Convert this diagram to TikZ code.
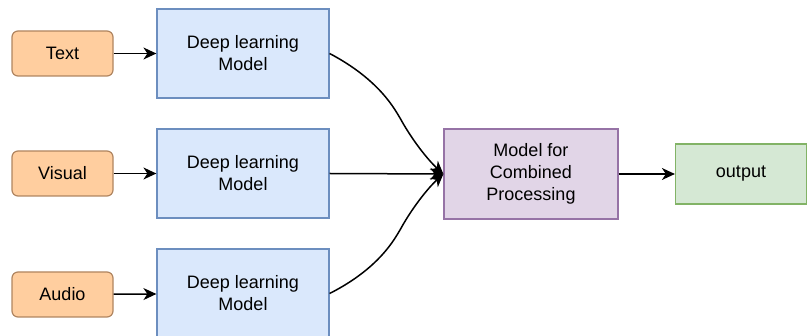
\documentclass[tikz,border=0pt]{standalone}
\usepackage{fontspec}
\setmainfont{Liberation Sans}
\usetikzlibrary{arrows.meta}
\definecolor{obg}{HTML}{FFCE9F}\definecolor{ofg}{HTML}{B08560}
\definecolor{bbg}{HTML}{DAE8FC}\definecolor{bfg}{HTML}{6C8EBF}
\definecolor{pbg}{HTML}{E1D5E7}\definecolor{pfg}{HTML}{9673A6}
\definecolor{gbg}{HTML}{D5E8D4}\definecolor{gfg}{HTML}{82B366}
\tikzset{
  base/.style={font=\fontsize{18}{22}\selectfont, align=center, line width=1.2pt, inner sep=0pt},
  inbox/.style={base, draw=ofg, fill=obg, rounded corners=6pt, minimum width=101pt, minimum height=45pt},
  dlbox/.style={base, draw=bfg, fill=bbg, minimum width=172pt, minimum height=89pt},
  cbox/.style={base, draw=pfg, fill=pbg, minimum width=174pt, minimum height=90pt},
  obox/.style={base, draw=gfg, fill=gbg, minimum width=131pt, minimum height=60pt},
  arr/.style={line width=1.5pt, -{Stealth[length=13pt,width=12pt,inset=4pt]}}
}
\begin{document}
\begin{tikzpicture}[x=1pt,y=-1pt]
\useasboundingbox (0,0) rectangle (807,336);
\node[inbox] (t) at (62.5,53.5) {Text};
\node[inbox] (v) at (62.5,173.5) {Visual};
\node[inbox] (a) at (62.5,294.5) {Audio};
\node[dlbox] (d1) at (243,53.5) {Deep learning\\Model};
\node[dlbox] (d2) at (243,173.5) {Deep learning\\Model};
\node[dlbox] (d3) at (243,293.5) {Deep learning\\Model};
\node[cbox] (c) at (531,174) {Model for\\Combined\\Processing};
\node[obox] (o) at (741,174) {output};
\draw[arr] (t) -- (d1);
\draw[arr] (v) -- (d2);
\draw[arr] (a) -- (d3);
\draw[arr] (d1.east) .. controls (380,80) and (395,110) .. (400,118) .. controls (412,140) and (428,160) .. (c.west);
\draw[arr] (d2.east) -- (c.west);
\draw[arr] (d3.east) .. controls (380,268) and (395,238) .. (400,230) .. controls (412,208) and (428,188) .. (c.west);
\draw[arr] (c) -- (o);
\end{tikzpicture}
\end{document}
